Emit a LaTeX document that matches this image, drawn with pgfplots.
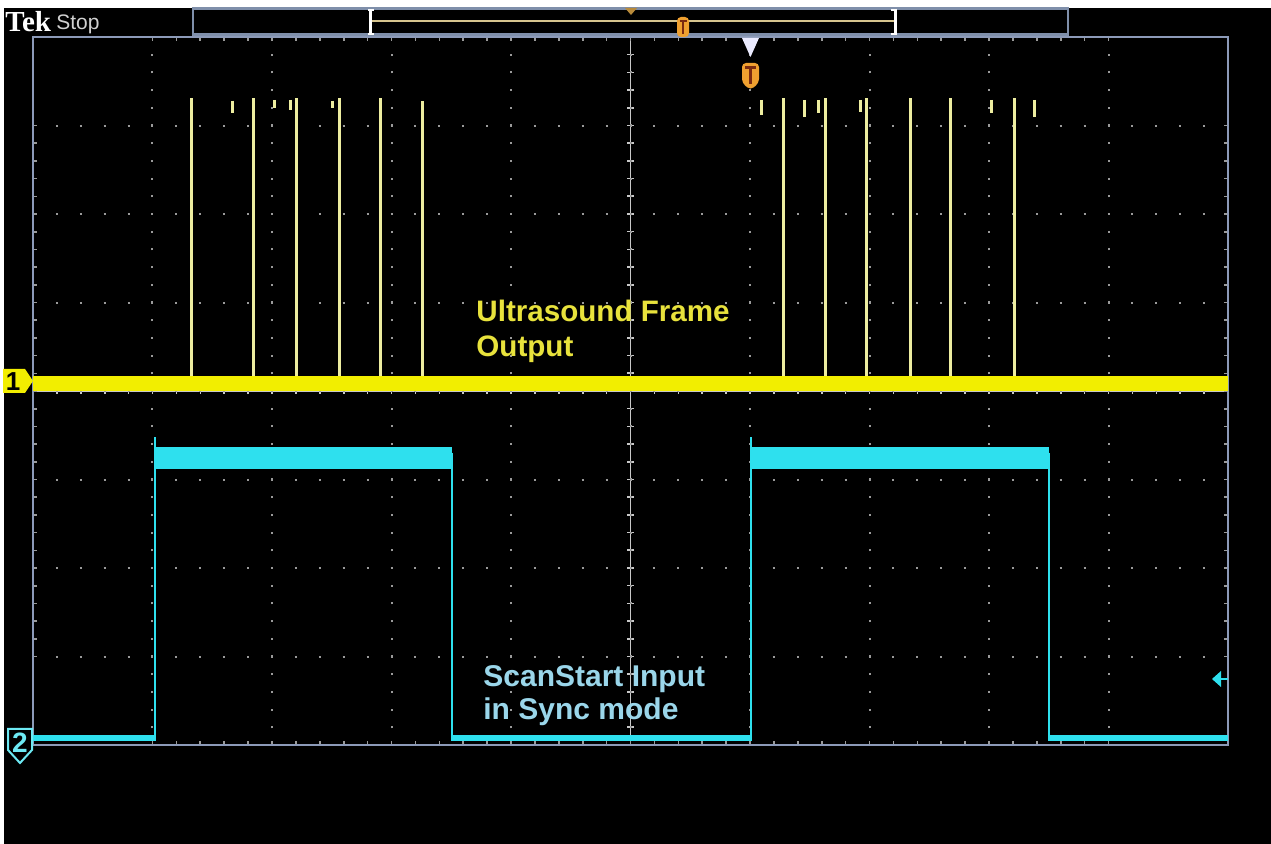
\documentclass[border=0pt]{standalone}
\usepackage{pgfplots}
\pgfplotsset{compat=1.18}
\usepackage{fontspec}
\setmainfont{Liberation Sans}
\newfontfamily\tekfont{Liberation Serif}

\definecolor{chone}{HTML}{F2EE00}
\definecolor{pulse}{HTML}{EDEDA0}
\definecolor{chonetxt}{HTML}{E8E23C}
\definecolor{chtwo}{HTML}{2EE0EE}
\definecolor{chtwotxt}{HTML}{9AD6EA}
\definecolor{scrframe}{HTML}{8C9AB8}
\definecolor{dotcol}{HTML}{9A9A9A}
\definecolor{centercol}{HTML}{C8C8C8}
\definecolor{barcol}{HTML}{7F8FAA}
\definecolor{brcol}{HTML}{D6C48E}
\definecolor{trigor}{HTML}{EFA030}
\definecolor{trigdark}{HTML}{7A2A10}
\definecolor{trigdim}{HTML}{B88A3A}

\begin{document}
\begin{tikzpicture}
% screen background and centre cross, in pixel units (y down)
\begin{scope}[x=0.5pt,y=-0.5pt]
  \fill[white] (0,0) rectangle (1271,844);
  \fill[black] (4,8) rectangle (1271,844);
  \draw[centercol, line width=0.8pt] (630.5,37) -- (630.5,745) (33,391) -- (1228,391);
  \foreach \k in {1,...,39}
    \draw[centercol, line width=0.8pt] (627,{37+17.7*\k}) -- (634,{37+17.7*\k});
  \foreach \k in {1,...,49}
    \draw[centercol, line width=0.8pt] ({33+23.9*\k},387.5) -- ({33+23.9*\k},394.5);
\end{scope}

% graticule: 10 x 8 divisions
\begin{axis}[
    at={(16.5pt,-372.5pt)}, anchor=south west,
    scale only axis, width=597.5pt, height=354pt,
    xmin=0, xmax=10, ymin=-4, ymax=4,
    xtick={1,...,9}, ytick={-3,...,3},
    xticklabels={}, yticklabels={},
    minor x tick num=4, minor y tick num=4,
    tick align=inside,
    major tick length=2pt, minor tick length=2pt,
    tick style={dotcol, line width=0.8pt},
    grid=major,
    major x grid style={dotcol, line width=1pt, dash pattern=on 1pt off 7.85pt, dash phase=0.5pt},
    major y grid style={dotcol, line width=1pt, dash pattern=on 1pt off 10.95pt, dash phase=0.5pt},
    axis line style={scrframe, line width=1pt},
    unbounded coords=jump,
]
% channel 1: frame pulses
\addplot[pulse, line width=1.5pt, ycomb, no marks] coordinates {
  (1.328,3.31) (1.849,3.31) (2.207,3.31) (2.567,3.31) (2.904,3.31) (3.258,3.28)
  (6.279,3.31) (6.628,3.31) (6.977,3.31) (7.339,3.31) (7.679,3.31) (8.212,3.31)
};
% short glitches near the top
\addplot[pulse, line width=1.5pt, no marks] coordinates {
  (1.671,3.28) (1.671,3.14) (1.671,nan)
  (2.017,3.29) (2.017,3.20) (2.017,nan)
  (2.156,3.29) (2.156,3.17) (2.156,nan)
  (2.508,3.28) (2.508,3.20) (2.508,nan)
  (6.098,3.29) (6.098,3.12) (6.098,nan)
  (6.452,3.29) (6.452,3.10) (6.452,nan)
  (6.577,3.29) (6.577,3.14) (6.577,nan)
  (6.926,3.29) (6.926,3.15) (6.926,nan)
  (8.023,3.29) (8.023,3.14) (8.023,nan)
  (8.379,3.29) (8.379,3.10)
};
% channel 1 baseline
\addplot[chone, line width=7.5pt, no marks] coordinates {(0,0.08) (10,0.08)};

% channel 2: ScanStart input
\addplot[chtwo, line width=3pt, no marks] coordinates {
  (0,-3.921) (1.021,-3.921) (2,nan)
  (3.506,-3.921) (6.008,-3.921) (7,nan)
  (8.502,-3.921) (10,-3.921)
};
\addplot[chtwo, line width=1pt, no marks] coordinates {
  (1.021,-3.95) (1.021,-0.52) (1.021,nan)
  (3.506,-0.70) (3.506,-3.95) (3.506,nan)
  (6.008,-3.95) (6.008,-0.52) (6.008,nan)
  (8.502,-0.70) (8.502,-3.95)
};
\addplot[chtwo, line width=11pt, no marks] coordinates {
  (1.021,-0.757) (3.506,-0.757) (4,nan)
  (6.008,-0.757) (8.502,-0.757)
};
\end{axis}

% screen furniture, in pixel units (y down)
\begin{scope}[x=0.5pt,y=-0.5pt]
  % brand and state
  \node[anchor=base west, inner sep=0, white,
        font=\tekfont\bfseries\fontsize{14.5pt}{16pt}\selectfont] at (5,32) {Tek};
  \node[anchor=base west, inner sep=0, white!82!black,
        font=\fontsize{10.5pt}{12pt}\selectfont] at (56,30) {Stop};

  % record view bar
  \draw[barcol, line width=1.2pt] (193,8.6) rectangle (1068,34.5);
  \draw[brcol, line width=1pt] (370,21) -- (895,21);
  \draw[white, line width=1.5pt] (370,10) -- (370,34) (895,10) -- (895,34);
  \draw[white, line width=1pt] (368,10) -- (374,10) (368,34) -- (374,34)
                               (891,10) -- (897,10) (891,34) -- (897,34);
  \fill[trigdim] (625,8) -- (637,8) -- (631,15) -- cycle;
  \fill[trigor, rounded corners=2pt] (677,17) rectangle (689,37);
  \draw[trigdark, line width=1.2pt] (679.5,21) -- (686.5,21) (683,21) -- (683,34);

  % trigger position marker
  \fill[white!92!blue] (742,38) -- (759,38) -- (750.5,57) -- cycle;
  \fill[trigor, rounded corners=2pt] (742,63) -- (759,63) -- (759,83) -- (750.5,90) -- (742,83) -- cycle;
  \draw[trigdark, line width=1.5pt] (745,68) -- (756,68) (750.5,68) -- (750.5,84);

  % channel markers
  \fill[chone] (3,369) -- (25,369) -- (33,381) -- (25,393) -- (3,393) -- cycle;
  \node[black, inner sep=0, font=\bfseries\fontsize{13pt}{13pt}\selectfont] at (13,382) {1};
  \filldraw[fill=black, draw=chtwo!70!white, line width=1pt]
    (8,729) -- (32,729) -- (32,750) -- (20,763) -- (8,750) -- cycle;
  \node[chtwo!70!white, inner sep=0, font=\bfseries\fontsize{14pt}{14pt}\selectfont] at (20,743) {2};

  % trigger level arrow
  \fill[chtwo] (1212,679) -- (1221,671) -- (1221,687) -- cycle;
  \draw[chtwo, line width=1pt] (1221,679) -- (1228,679);

  % annotations
  \node[anchor=base west, inner sep=0, chonetxt,
        font=\bfseries\fontsize{14.8pt}{17pt}\selectfont] at (476,322) {Ultrasound Frame};
  \node[anchor=base west, inner sep=0, chonetxt,
        font=\bfseries\fontsize{14.8pt}{17pt}\selectfont] at (476,357) {Output};
  \node[anchor=base west, inner sep=0, chtwotxt,
        font=\bfseries\fontsize{15pt}{17pt}\selectfont] at (483,687) {ScanStart Input};
  \node[anchor=base west, inner sep=0, chtwotxt,
        font=\bfseries\fontsize{15pt}{17pt}\selectfont] at (483,720) {in Sync mode};

  % the page is exactly the screenshot
  \pgfresetboundingbox
  \useasboundingbox (0,0) rectangle (1271,844);
\end{scope}
\end{tikzpicture}
\end{document}
